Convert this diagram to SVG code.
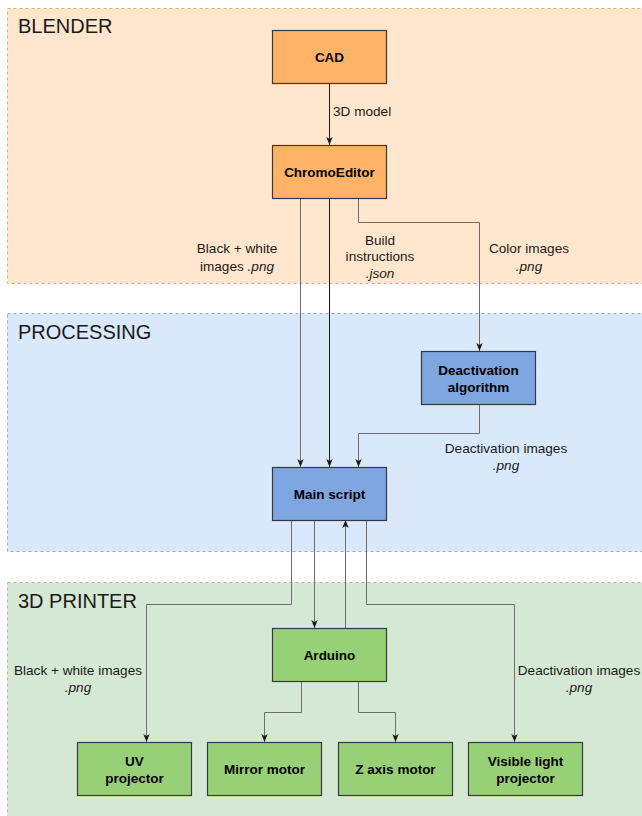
<svg xmlns="http://www.w3.org/2000/svg" width="642" height="816" viewBox="0 0 642 816">
<defs>
<marker id="arr" viewBox="0 0 8 8" refX="8" refY="4" markerWidth="8" markerHeight="8" markerUnits="userSpaceOnUse" orient="auto">
<path d="M0,0.8 L8,4 L0,7.2 L2,4 Z" fill="#1a1a1a"/>
</marker>
<style>
.cont{stroke-width:1;stroke-dasharray:3 3}
.title{font-family:"Liberation Sans",Arial,sans-serif;font-size:20px;fill:#1a1a1a}
.node rect{stroke:#36393d;stroke-width:1.2}
.node text{font-family:"Liberation Sans",Arial,sans-serif;font-size:13.5px;font-weight:bold;fill:#000;text-anchor:middle}
.orange rect{fill:#ffb366}
.blue rect{fill:#7ea6e0}
.green rect{fill:#97d077}
.edge{fill:none;stroke:#6e6e6e;stroke-width:1}
.dark{stroke:#1a1a1a}
.arrow{marker-end:url(#arr)}
.lbl{font-family:"Liberation Sans",Arial,sans-serif;font-size:13.6px;fill:#1a1a1a;text-anchor:middle}
.it{font-style:italic}
</style>
</defs>

<g id="containers">
<rect class="cont" x="7.5" y="8.5" width="640" height="275" fill="#ffe6cc" stroke="#d6b656"/>
<text class="title" x="18" y="33">BLENDER</text>
<rect class="cont" x="7.5" y="313.5" width="640" height="238" fill="#dae8fc" stroke="#9aabc4"/>
<text class="title" x="18" y="339">PROCESSING</text>
<rect class="cont" x="7.5" y="582.5" width="640" height="240" fill="#d5e8d4" stroke="#a3c192"/>
<text class="title" x="18" y="608">3D PRINTER</text>
</g>

<g id="connectors">
<path class="edge dark arrow" d="M329.5,84 V145"/>
<path class="edge arrow" d="M300.5,198 V467"/>
<path class="edge dark arrow" d="M329.5,198 V467"/>
<path class="edge arrow" d="M358.5,198 V222.5 H479.5 V351"/>
<path class="edge arrow" d="M479.5,405 V433.5 H358.5 V467"/>
<path class="edge arrow" d="M291.5,520 V604.5 H146.5 V742"/>
<path class="edge arrow" d="M314.5,520 V628"/>
<path class="edge arrow" d="M345.5,628 V520"/>
<path class="edge arrow" d="M366.5,520 V604.5 H514.5 V742"/>
<path class="edge arrow" d="M301.5,681 V712.5 H264.5 V742"/>
<path class="edge arrow" d="M358.5,681 V712.5 H395.5 V742"/>
<text class="lbl" x="333" y="116" style="text-anchor:start">3D model</text>
<text class="lbl" x="237" y="253">Black + white</text>
<text class="lbl" x="237" y="271">images <tspan class="it">.png</tspan></text>
<text class="lbl" x="380" y="245">Build</text>
<text class="lbl" x="380" y="261">instructions</text>
<text class="lbl it" x="380" y="278">.json</text>
<text class="lbl" x="529" y="253">Color images</text>
<text class="lbl it" x="529" y="271">.png</text>
<text class="lbl" x="506" y="453">Deactivation images</text>
<text class="lbl it" x="506" y="470">.png</text>
<text class="lbl" x="78" y="675">Black + white images</text>
<text class="lbl it" x="78" y="692">.png</text>
<text class="lbl" x="579" y="675">Deactivation images</text>
<text class="lbl it" x="579" y="692">.png</text>
</g>

<g id="cad" class="node orange"><rect x="272.5" y="30.5" width="114" height="53"/><text x="329.5" y="62">CAD</text></g>
<g id="chromoeditor" class="node orange"><rect x="272.5" y="145.5" width="114" height="53"/><text x="329.5" y="177">ChromoEditor</text></g>
<g id="deactivation" class="node blue"><rect x="421.5" y="351.5" width="114" height="53"/><text x="478.5" y="375">Deactivation</text><text x="478.5" y="392">algorithm</text></g>
<g id="main" class="node blue"><rect x="272.5" y="467.5" width="114" height="53"/><text x="329.5" y="499">Main script</text></g>
<g id="arduino" class="node green"><rect x="272.5" y="628.5" width="114" height="53"/><text x="329.5" y="660">Arduino</text></g>
<g id="uv" class="node green"><rect x="77.5" y="742.5" width="114" height="53"/><text x="134.5" y="766">UV</text><text x="134.5" y="783">projector</text></g>
<g id="mirror" class="node green"><rect x="207.5" y="742.5" width="114" height="53"/><text x="264.5" y="774">Mirror motor</text></g>
<g id="zaxis" class="node green"><rect x="338.5" y="742.5" width="114" height="53"/><text x="395.5" y="774">Z axis motor</text></g>
<g id="visible" class="node green"><rect x="468.5" y="742.5" width="114" height="53"/><text x="525.5" y="766">Visible light</text><text x="525.5" y="783">projector</text></g>
</svg>
